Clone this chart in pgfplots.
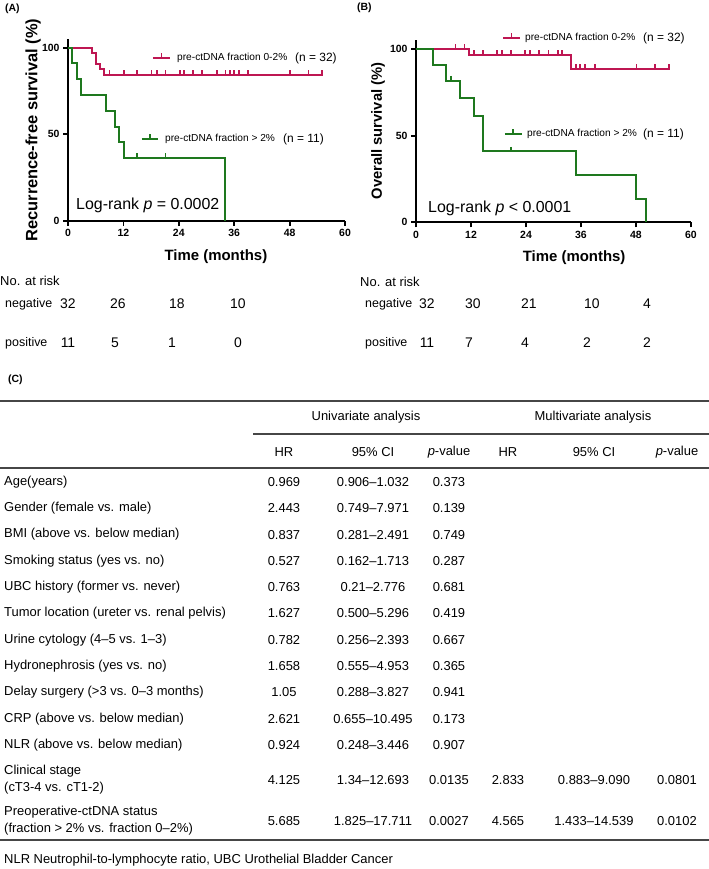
\documentclass[border=0pt]{standalone}
\usepackage{fontspec}
\setmainfont{Liberation Sans}
\usepackage{pgfplots}
\pgfplotsset{compat=1.18}

\definecolor{kmred}{RGB}{190,22,82}
\definecolor{kmgreen}{RGB}{30,120,30}
\definecolor{rulegray}{RGB}{70,70,70}
\newcommand{\fs}[1]{\fontsize{#1}{#1}\selectfont}

\pgfplotsset{
  kmaxis/.style={
    scale only axis, height=182bp,
    xmin=0, xmax=60, ymin=0, ymax=105,
    axis lines=left,
    axis line style={-, line width=1.8bp, black},
    x axis line style={-}, y axis line style={-},
    xtick={0,12,24,36,48,60}, ytick={0,50,100},
    tick align=outside, major tick length=5bp,
    tick style={black, line width=1.8bp},
    ticklabel style={font=\fs{10.5}\bfseries},
    /pgf/number format/assume math mode=true,
    clip=false,
  },
  curve/.style={const plot, line width=2bp, no marks},
  cens/.style={only marks, mark=|, mark size=2.8bp,
    mark options={line width=1.8bp, yshift=1.8bp}},
  key/.style={line width=2bp, mark=|, mark indices={2}, mark size=2.8bp,
    mark options={line width=1.8bp, yshift=1.8bp}, forget plot},
}

\begin{document}
\begin{tikzpicture}
\path[use as bounding box] (0bp,0bp) rectangle (709bp,-869bp);

% (A) recurrence-free survival
\begin{axis}[kmaxis, width=277bp, at={(68bp,-221bp)}, anchor=south west,
  xlabel={Time (months)}, ylabel={Recurrence-free survival (\%)},
  xlabel style={at={(axis description cs:0.534,-0.198)}, anchor=center, font=\fs{15}\bfseries},
  ylabel style={at={(axis description cs:-0.126,0.5)}, anchor=center, font=\fs{16.5}\bfseries}]
\addplot[curve, kmred] coordinates {
  (0,100) (5.1,96.9) (6.1,90.6) (6.9,87.5) (7.8,84.4) (55.1,84.4)};
\addplot[cens, kmred] coordinates {
  (9.0,84.4) (12.1,84.4) (15.0,84.4) (18.1,84.4) (19.2,84.4) (21.1,84.4)
  (24.2,84.4) (25.2,84.4) (27.1,84.4) (29.1,84.4) (32.2,84.4) (34.1,84.4)
  (35.1,84.4) (36.0,84.4) (37.0,84.4) (39.0,84.4) (48.1,84.4) (52.1,84.4) (55.1,84.4)};
\addplot[curve, kmgreen] coordinates {
  (0,100) (0.9,90.9) (2.0,81.8) (2.9,72.7) (8.2,63.6) (10.1,54.5)
  (11.1,45.5) (12.1,36.4) (34.1,0)};
\addplot[cens, kmgreen] coordinates {(15.0,36.4) (21.1,36.4)};
% keys
\addplot[key, kmred] coordinates {(18.4,94.1) (20.25,94.1) (22.1,94.1)};
\addplot[key, kmgreen] coordinates {(16.0,47.3) (17.75,47.3) (19.5,47.3)};
\end{axis}

% (B) overall survival
\begin{axis}[kmaxis, width=275bp, at={(416bp,-222.3bp)}, anchor=south west,
  xlabel={Time (months)}, ylabel={Overall survival (\%)},
  xlabel style={at={(axis description cs:0.575,-0.196)}, anchor=center, font=\fs{15}\bfseries},
  ylabel style={at={(axis description cs:-0.138,0.502)}, anchor=center, font=\fs{14.8}\bfseries}]
\addplot[curve, kmred] coordinates {
  (0,100) (11.6,96.7) (33.8,88.4) (55.2,88.4)};
\addplot[cens, kmred] coordinates {
  (8.6,100) (10.6,100)
  (12.6,96.7) (14.6,96.7) (17.7,96.7) (18.7,96.7) (20.7,96.7) (23.8,96.7)
  (24.9,96.7) (26.9,96.7) (28.9,96.7) (30.9,96.7) (31.8,96.7)
  (34.9,88.4) (35.8,88.4) (36.9,88.4) (39.0,88.4) (48.1,88.4) (52.1,88.4) (55.2,88.4)};
\addplot[curve, kmgreen] coordinates {
  (0,100) (3.7,90.9) (6.6,81.8) (9.5,71.6) (12.6,61.4) (14.6,40.9)
  (34.9,27.3) (48.1,13.6) (50.1,0)};
\addplot[cens, kmgreen] coordinates {(7.7,81.8) (20.7,40.9)};
% keys
\addplot[key, kmred] coordinates {(19.0,106.4) (20.85,106.4) (22.7,106.4)};
\addplot[key, kmgreen] coordinates {(19.4,51.0) (21.25,51.0) (23.1,51.0)};
\end{axis}

\begin{scope}[x=1bp, y=-1bp, every node/.style={inner sep=0pt}]
% panel letters
\node[anchor=west, font=\fs{10.5}\bfseries] at (5,9) {(A)};
\node[anchor=west, font=\fs{10.5}\bfseries] at (357,8) {(B)};
\node[anchor=west, font=\fs{10.5}\bfseries] at (8,380) {(C)};

% in-plot annotations
\node[anchor=west, font=\fs{10.2}] at (177,58) {pre-ctDNA fraction 0-2\%};
\node[anchor=west, font=\fs{12}] at (295,58) {(n = 32)};
\node[anchor=west, font=\fs{10.2}] at (165,139) {pre-ctDNA fraction > 2\%};
\node[anchor=west, font=\fs{12}] at (283,139) {(n = 11)};
\node[anchor=west, font=\fs{16}] at (76,205) {Log-rank \textit{p} = 0.0002};

\node[anchor=west, font=\fs{10.2}] at (525,38) {pre-ctDNA fraction 0-2\%};
\node[anchor=west, font=\fs{12}] at (643,38) {(n = 32)};
\node[anchor=west, font=\fs{10.2}] at (527,134) {pre-ctDNA fraction > 2\%};
\node[anchor=west, font=\fs{12}] at (643,134) {(n = 11)};
\node[anchor=west, font=\fs{16}] at (428,208) {Log-rank \textit{p} < 0.0001};

% numbers at risk
\node[anchor=west, font=\fs{13}] at (0,281) {No. at risk};
\node[anchor=west, font=\fs{12.5}] at (5,304) {negative};
\node[anchor=west, font=\fs{12.5}] at (5,343) {positive};
\foreach \x/\n in {68/32,118/26,177/18,238/10} \node[font=\fs{14}] at (\x,304) {\n};
\foreach \x/\n in {68/11,115/5,172/1,238/0} \node[font=\fs{14}] at (\x,343) {\n};

\node[anchor=west, font=\fs{13}] at (360,282) {No. at risk};
\node[anchor=west, font=\fs{12.5}] at (365,304) {negative};
\node[anchor=west, font=\fs{12.5}] at (365,343) {positive};
\foreach \x/\n in {427/32,473/30,529/21,592/10,647/4} \node[font=\fs{14}] at (\x,304) {\n};
\foreach \x/\n in {427/11,469/7,525/4,587/2,647/2} \node[font=\fs{14}] at (\x,343) {\n};

% table (C)
\draw[rulegray, line width=1.4] (0,401) -- (709,401);
\draw[rulegray, line width=1.4] (253,434) -- (709,434);
\draw[rulegray, line width=1.4] (0,468) -- (709,468);
\draw[rulegray, line width=1.4] (0,840) -- (709,840);

\begin{scope}[font=\fs{13}]
\node at (366,417) {Univariate analysis};
\node at (593,417) {Multivariate analysis};
\foreach \x/\t in {284/HR,373/95\% CI,449/\textit{p}-value,508/HR,594/95\% CI,677/\textit{p}-value}
  \node at (\x,452) {\t};

\foreach \y/\lab/\hr/\ci/\p in {
  482/Age(years)/0.969/0.906--1.032/0.373,
  508.3/Gender (female vs. male)/2.443/0.749--7.971/0.139,
  534.6/BMI (above vs. below median)/0.837/0.281--2.491/0.749,
  560.9/Smoking status (yes vs. no)/0.527/0.162--1.713/0.287,
  587.2/UBC history (former vs. never)/0.763/0.21--2.776/0.681,
  613.5/Tumor location (ureter vs. renal pelvis)/1.627/0.500--5.296/0.419,
  639.8/Urine cytology (4--5 vs. 1--3)/0.782/0.256--2.393/0.667,
  666.1/Hydronephrosis (yes vs. no)/1.658/0.555--4.953/0.365,
  692.4/Delay surgery (>3 vs. 0--3 months)/1.05/0.288--3.827/0.941,
  718.7/CRP (above vs. below median)/2.621/0.655--10.495/0.173,
  745/NLR (above vs. below median)/0.924/0.248--3.446/0.907} {
  \node[anchor=west] at (4,\y) {\lab};
  \node at (284,\y) {\hr};
  \node at (373,\y) {\ci};
  \node at (449,\y) {\p};
}
\node[anchor=west, align=left, font=\fontsize{13}{17}\selectfont] at (4,780) {Clinical stage\\(cT3-4 vs. cT1-2)};
\foreach \x/\t in {284/4.125,373/1.34--12.693,449/0.0135,508/2.833,594/0.883--9.090,677/0.0801}
  \node at (\x,780) {\t};
\node[anchor=west, align=left, font=\fontsize{13}{17}\selectfont] at (4,821) {Preoperative-ctDNA status\\(fraction > 2\% vs. fraction 0--2\%)};
\foreach \x/\t in {284/5.685,373/1.825--17.711,449/0.0027,508/4.565,594/1.433--14.539,677/0.0102}
  \node at (\x,821) {\t};

\node[anchor=west] at (4,860) {NLR Neutrophil-to-lymphocyte ratio, UBC Urothelial Bladder Cancer};
\end{scope}
\end{scope}
\end{tikzpicture}
\end{document}
